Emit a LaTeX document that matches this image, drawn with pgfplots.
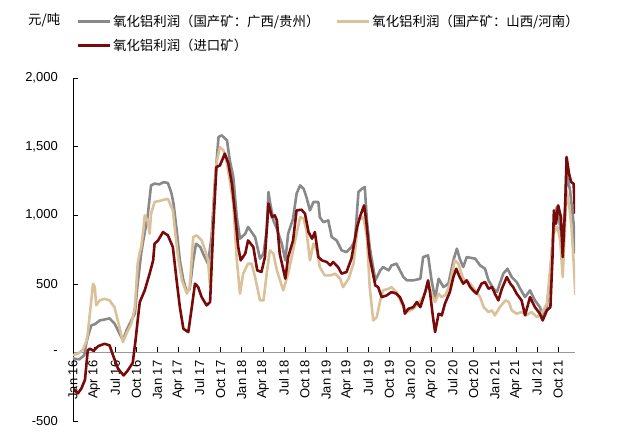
\documentclass[border=0pt]{standalone}
\usepackage{fontspec}
\setmainfont{Liberation Sans}
\newfontfamily\cjk{Noto Sans CJK SC}
\usepackage{pgfplots}
\pgfplotsset{compat=1.18}
\definecolor{cgray}{RGB}{137,137,137}
\definecolor{ctan}{RGB}{219,193,153}
\definecolor{cred}{RGB}{120,10,10}
\begin{document}
\begin{tikzpicture}
\useasboundingbox (0,0) rectangle (640bp,444bp);
\begin{axis}[
  at={(73bp,23bp)}, anchor=south west,
  scale only axis, width=502bp, height=343bp,
  xmin=0, xmax=71.4, ymin=-500, ymax=2000,
  axis x line=middle, axis y line=left,
  hide obscured x ticks=false, hide obscured y ticks=false,
  x axis line style={-, draw=gray!80, line width=0.9pt},
  y axis line style={-, black, line width=0.7pt},
  tick style={black, line width=0.6pt},
  major tick length=5bp, tick align=inside,
  xtick={0,3,...,69},
  xticklabels={Jan 16,Apr 16,Jul 16,Oct 16,Jan 17,Apr 17,Jul 17,Oct 17,Jan 18,Apr 18,Jul 18,Oct 18,Jan 19,Apr 19,Jul 19,Oct 19,Jan 20,Apr 20,Jul 20,Oct 20,Jan 21,Apr 21,Jul 21,Oct 21},
  ytick={-500,0,500,1000,1500,2000},
  yticklabels={-500,{-\hspace{8bp}},500,{1,000},{1,500},{2,000}},
  /pgf/number format/assume math mode=true,
  xticklabel style={yshift=-8bp, rotate=90, anchor=east, inner sep=0pt, font=\fontsize{13bp}{15bp}\selectfont},
  yticklabel style={anchor=east, inner sep=0pt, xshift=-15bp, font=\fontsize{13bp}{15bp}\selectfont},
  legend style={at={(0,1)}, anchor=south west, xshift=3bp, yshift=24bp, draw=none, fill=none,
    font=\cjk\fontsize{13.4bp}{16bp}\selectfont, inner sep=0pt, row sep=7bp,
    /tikz/every even column/.append style={column sep=14bp}},
  legend columns=2, legend cell align=left,
  legend image code/.code={\draw[#1, line width=3pt] (0bp,0bp) -- (32bp,0bp);},
]
\addplot[cgray, line width=2.6bp, line join=round] coordinates {
(0,-44)(0.9,-51)(1.6,-20)(1.9,68)(2.1,112)(2.6,197)(3.1,205)(3.8,233)(4.5,240)(5.2,248)(5.9,211)(6.6,140)(7.1,87)(7.6,160)(8.3,233)(8.8,284)(9.2,500)(9.7,722)(10.0,816)(10.6,986)(11.1,1217)(11.6,1230)(12.3,1225)(12.9,1241)(13.5,1235)(14.0,1160)(14.3,1084)(14.75,889)(15.2,671)(15.7,525)(16.2,440)(16.6,464)(17.1,671)(17.5,792)(18.1,768)(18.5,720)(19.2,647)(19.7,841)(20.2,1254)(20.7,1570)(21.15,1582)(21.9,1545)(22.3,1400)(22.8,1278)(23.3,986)(23.75,829)(24.5,865)(24.9,914)(25.4,877)(25.9,841)(26.6,683)(27.1,720)(27.55,889)(27.8,1169)(28.0,1100)(28.5,962)(29.0,900)(29.7,792)(30.2,671)(30.6,865)(31.3,975)(31.8,1157)(32.3,1217)(32.8,1193)(33.2,1132)(33.7,1035)(34.2,1096)(34.9,1096)(35.1,986)(35.6,950)(36.3,962)(36.8,841)(37.5,816)(38.2,744)(38.9,731)(39.6,768)(40.1,816)(40.6,1169)(41.1,1193)(41.5,1205)(41.8,962)(42.2,768)(43.0,525)(43.7,598)(44.1,622)(44.9,598)(45.3,634)(46.0,647)(46.5,598)(47.0,549)(47.5,525)(48.4,525)(49.4,537)(49.8,695)(50.5,707)(51.0,525)(51.5,391)(52.0,537)(52.7,476)(53.4,501)(54.1,671)(54.6,756)(55.0,683)(55.5,622)(56.0,695)(56.5,690)(57.2,683)(57.9,634)(58.6,610)(59.1,525)(59.8,464)(60.3,440)(60.7,501)(61.2,574)(61.8,610)(62.4,549)(63.1,513)(63.6,464)(64.3,403)(65.0,452)(65.7,379)(66.4,330)(66.9,257)(67.4,330)(67.9,574)(68.3,865)(68.8,1059)(69.3,914)(69.7,744)(70.2,1303)(70.7,1181)(71.2,938)(71.4,720)
};
\addlegendentry{氧化铝利润（国产矿：广西/贵州）}
\addplot[ctan, line width=2.6bp, line join=round] coordinates {
(0,-20)(0.7,-10)(1.4,20)(1.9,80)(2.1,136)(2.6,379)(2.85,500)(3.1,476)(3.3,343)(3.8,379)(4.5,391)(5.2,379)(5.9,330)(6.6,185)(7.1,75)(7.6,136)(8.3,209)(8.8,330)(9.2,647)(9.5,731)(9.7,768)(10.0,889)(10.2,999)(10.6,962)(10.9,865)(11.1,1011)(11.6,1096)(12.6,1108)(13.5,1120)(14.2,1035)(14.5,889)(15.0,671)(15.5,525)(16.2,428)(16.6,476)(17.1,841)(17.6,853)(18.3,816)(18.8,744)(19.2,671)(19.5,476)(19.95,1011)(20.4,1376)(20.9,1497)(21.4,1473)(21.9,1376)(22.3,1254)(22.8,1084)(23.3,671)(23.75,428)(24.2,574)(24.9,647)(25.4,647)(25.9,549)(26.6,379)(27.1,379)(27.55,574)(28.0,744)(28.5,720)(29.0,598)(29.9,452)(30.6,574)(31.6,816)(32.3,986)(32.8,975)(33.2,889)(33.7,671)(34.2,792)(34.7,744)(35.1,622)(35.8,561)(36.6,561)(37.3,574)(38.0,537)(38.4,476)(39.2,537)(39.9,647)(40.6,962)(41.3,986)(41.8,841)(42.2,476)(42.7,233)(43.2,257)(43.7,379)(44.1,452)(44.9,464)(45.3,476)(46.0,440)(46.75,355)(47.5,294)(48.4,318)(49.1,355)(49.8,403)(50.5,501)(51.0,428)(51.5,367)(52.0,428)(52.45,403)(53.0,420)(53.6,500)(54.3,671)(54.8,647)(55.5,537)(56.5,500)(57.2,452)(57.9,403)(58.4,330)(59.1,294)(59.6,306)(60.0,270)(60.7,330)(61.5,379)(62.0,367)(62.4,306)(63.1,282)(63.8,294)(64.5,270)(65.2,294)(66.0,257)(66.6,282)(67.4,355)(67.9,622)(68.3,865)(68.9,914)(69.3,816)(69.65,549)(70.2,1181)(70.6,1059)(70.9,914)(71.25,622)(71.45,420)
};
\addlegendentry{氧化铝利润（国产矿：山西/河南）}
\addplot[cred, line width=2.6bp, line join=round] coordinates {
(0,-262)(0.7,-299)(1.2,-262)(1.7,-200)(2.1,15)(2.4,27)(2.9,12)(3.6,46)(4.5,63)(5.2,51)(5.7,-22)(6.4,-119)(7.2,-168)(7.8,-131)(8.5,-75)(8.9,90)(9.2,233)(9.5,367)(10.2,452)(10.9,574)(11.4,671)(11.6,792)(12.1,816)(12.8,877)(13.5,853)(14.2,768)(14.75,520)(15.2,330)(15.7,172)(16.4,148)(16.9,330)(17.35,501)(17.8,476)(18.3,403)(19.0,343)(19.5,367)(19.95,914)(20.4,1351)(20.9,1363)(21.6,1449)(22.1,1376)(22.6,1230)(23.0,1035)(23.5,768)(23.85,671)(24.5,720)(24.9,816)(25.65,768)(26.2,598)(26.8,586)(27.3,695)(27.8,1084)(28.3,986)(28.7,999)(29.0,962)(29.4,720)(30.2,537)(30.6,695)(31.3,816)(31.8,1035)(32.5,1040)(33.0,1011)(33.5,877)(34.0,829)(34.4,877)(34.9,695)(35.4,671)(36.1,659)(36.6,634)(37.0,659)(37.7,622)(38.2,574)(38.9,586)(39.6,683)(40.4,914)(40.8,986)(41.4,1072)(41.7,962)(42.2,695)(43.0,488)(43.4,476)(43.9,403)(44.6,415)(45.3,440)(46.0,428)(46.5,403)(47.0,343)(47.2,282)(47.7,318)(48.4,330)(48.9,367)(49.4,330)(50.1,440)(50.5,525)(50.8,428)(51.2,257)(51.5,148)(52.0,282)(52.45,270)(52.9,355)(53.6,440)(54.1,549)(54.5,610)(55.0,549)(55.5,501)(56.0,525)(56.5,476)(56.9,452)(57.4,428)(58.1,501)(58.6,513)(59.1,464)(59.6,476)(60.0,428)(60.5,379)(61.0,464)(61.7,549)(62.2,501)(62.6,476)(63.1,428)(63.8,379)(64.3,270)(65.0,403)(65.7,330)(66.4,282)(66.8,233)(67.4,306)(67.9,330)(68.2,695)(68.4,1035)(68.7,938)(69.0,1072)(69.4,986)(69.65,695)(70.0,1059)(70.2,1424)(70.55,1303)(70.85,1242)(71.2,1230)(71.4,1011)
};
\addlegendentry{氧化铝利润（进口矿）}
\end{axis}
\node[anchor=west, inner sep=0pt, font=\cjk\fontsize{13.4bp}{16bp}\selectfont] at (28bp,424bp) {元/吨};
\end{tikzpicture}
\end{document}
